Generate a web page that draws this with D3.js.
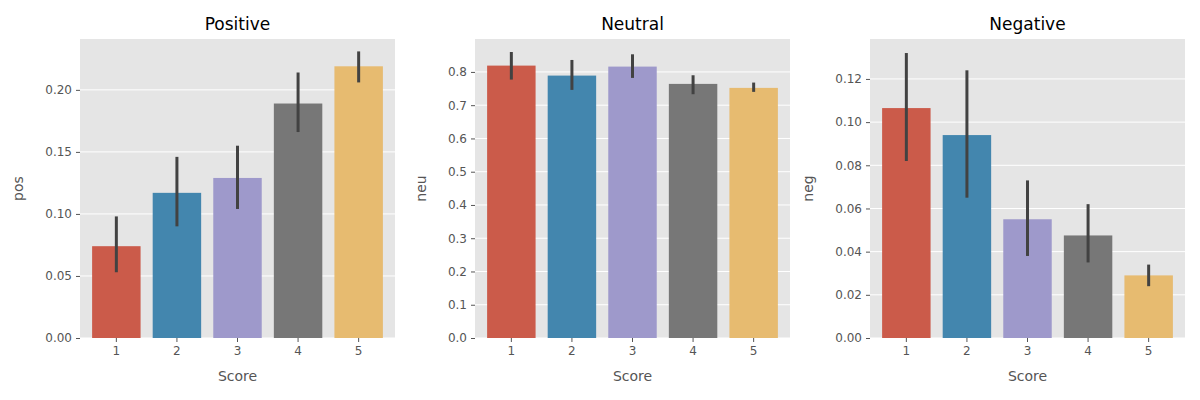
<!DOCTYPE html>
<html><head><meta charset="utf-8">
<script src="https://cdn.jsdelivr.net/npm/d3@7"></script>
<style>body{margin:0;background:#fff;font-family:"DejaVu Sans",sans-serif}</style>
</head><body><svg id="c" width="1200" height="400"></svg>
<script>
const scores = ["1","2","3","4","5"];
const colors = ["#cb5b4a","#4386ae","#9e99cb","#777777","#e7bb70"];
const posVals = [0.074,0.117,0.129,0.189,0.219];
const posLo = [0.053,0.090,0.104,0.166,0.206];
const posHi = [0.098,0.146,0.155,0.214,0.231];
const neuVals = [0.819,0.789,0.816,0.764,0.752];
const neuLo = [0.777,0.746,0.782,0.733,0.740];
const neuHi = [0.860,0.836,0.853,0.790,0.768];
const negVals = [0.1065,0.094,0.055,0.0475,0.029];
const negLo = [0.082,0.065,0.038,0.035,0.024];
const negHi = [0.132,0.124,0.073,0.062,0.034];

const panels = [
  {title:"Positive", ylab:"pos", x0:80, vals:posVals, lo:posLo, hi:posHi, max:0.241, ticks:d3.range(0,0.201,0.05), fmt:d3.format(".2f")},
  {title:"Neutral", ylab:"neu", x0:475, vals:neuVals, lo:neuLo, hi:neuHi, max:0.899, ticks:d3.range(0,0.801,0.1), fmt:d3.format(".1f")},
  {title:"Negative", ylab:"neg", x0:870, vals:negVals, lo:negLo, hi:negHi, max:0.1385, ticks:d3.range(0,0.1201,0.02), fmt:d3.format(".2f")}
];
const svg = d3.select("#c");
const plotTop = 39, plotBot = 338, w = 315;
panels.forEach(p => {
  const g = svg.append("g");
  const x = d3.scaleBand().domain(scores).range([p.x0, p.x0+w]).padding(0.2);
  const y = d3.scaleLinear().domain([0,p.max]).range([plotBot, plotTop]);
  g.append("rect").attr("x",p.x0).attr("y",plotTop).attr("width",w).attr("height",plotBot-plotTop).attr("fill","#e5e5e5");
  g.selectAll(".grid").data(p.ticks).join("line")
    .attr("x1",p.x0).attr("x2",p.x0+w).attr("y1",d=>y(d)).attr("y2",d=>y(d))
    .attr("stroke","#fff").attr("stroke-width",1);
  g.selectAll(".bar").data(p.vals).join("rect")
    .attr("x",(d,i)=>x(scores[i])).attr("width",x.bandwidth())
    .attr("y",d=>y(d)).attr("height",d=>plotBot-y(d)).attr("fill",(d,i)=>colors[i]);
  g.selectAll(".err").data(p.vals).join("line")
    .attr("x1",(d,i)=>x(scores[i])+x.bandwidth()/2).attr("x2",(d,i)=>x(scores[i])+x.bandwidth()/2)
    .attr("y1",(d,i)=>y(p.lo[i])).attr("y2",(d,i)=>y(p.hi[i]))
    .attr("stroke","#424242").attr("stroke-width",3);
  const ya = g.append("g").attr("transform",`translate(${p.x0},0)`)
    .call(d3.axisLeft(y).tickValues(p.ticks).tickFormat(p.fmt).tickSize(4).tickPadding(4));
  const xa = g.append("g").attr("transform",`translate(0,${plotBot})`)
    .call(d3.axisBottom(x).tickSize(4).tickPadding(4));
  [ya,xa].forEach(a=>{
    a.select(".domain").remove();
    a.selectAll("line").attr("stroke","#555");
    a.selectAll("text").attr("fill","#555").style("font-size","12px").style("font-family","DejaVu Sans");
  });
  g.append("text").attr("x",p.x0+w/2).attr("y",30).attr("text-anchor","middle")
    .style("font-size","17px").attr("fill","#000").text(p.title);
  g.append("text").attr("x",p.x0+w/2).attr("y",381).attr("text-anchor","middle")
    .style("font-size","14px").attr("fill","#555").text("Score");
  const lx = p.x0 - (p.fmt(p.ticks[1]).length>3?57:49);
  g.append("text").attr("transform",`translate(${lx},${(plotTop+plotBot)/2}) rotate(-90)`)
    .attr("text-anchor","middle").style("font-size","14px").attr("fill","#555").text(p.ylab);
});
</script></body></html>
